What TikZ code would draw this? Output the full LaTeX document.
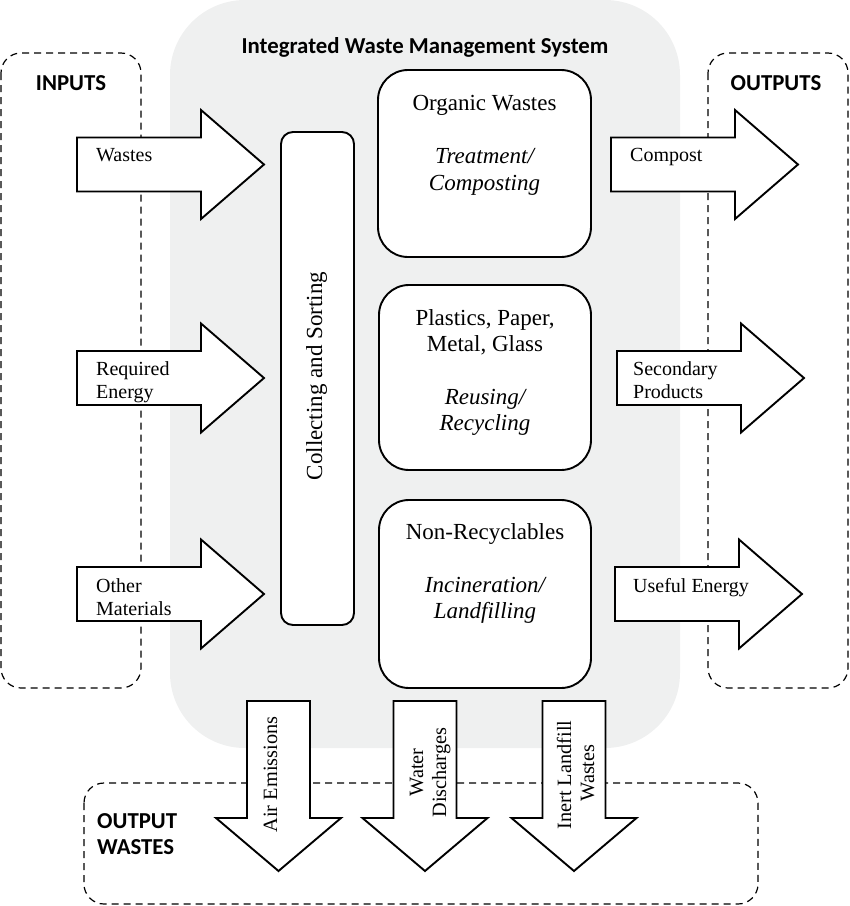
\documentclass[tikz,border=0pt]{standalone}
\usepackage{fontspec}
\setmainfont{Liberation Serif}
\newfontfamily\calib{Carlito}
\definecolor{bgfill}{HTML}{EFF0F0}
\newcommand\rblk[4]{\draw[blk] (#1,#2-27) -- (#3,#2-27) -- (#3,#2-54.5) -- (#4,#2) -- (#3,#2+54.5) -- (#3,#2+27) -- (#1,#2+27) -- cycle;}
\newcommand\dblk[1]{\draw[blk] (#1-31.5,701) -- (#1+31.5,701) -- (#1+31.5,818) -- (#1+62.5,818) -- (#1,871) -- (#1-62.5,818) -- (#1-31.5,818) -- cycle;}
\begin{document}
\begin{tikzpicture}[x=1pt,y=-1pt,
  dashbox/.style={draw, line width=1.2, dash pattern=on 7pt off 5pt, rounded corners=20},
  blk/.style={draw, fill=white, line width=1.9, line join=miter},
  procbox/.style={draw, fill=white, line width=1.9, rounded corners=30, inner sep=0},
  arrtxt/.style={font=\fontsize{20}{23}\selectfont, anchor=base west, inner sep=0},
  boxtxt/.style={font=\fontsize{23}{26.5}\selectfont, anchor=base, inner sep=0},
  dtxt/.style={font=\fontsize{20.3}{23}\selectfont, anchor=base, inner sep=0, rotate=90},
  hdr/.style={font=\calib\bfseries\fontsize{22.8}{26}\selectfont, inner sep=0}]
\useasboundingbox (0,0) rectangle (850,906);
% background of the system
\fill[bgfill, rounded corners=75] (170,0) rectangle (680,748);
% dashed groups
\draw[dashbox] (1,53) rectangle (141,688);
\draw[dashbox] (708,53) rectangle (848,688);
\draw[dashbox] (84,783) rectangle (758,904);
% headers
\node[hdr, anchor=base] (title) at (425,53) {Integrated Waste Management System};
\node[hdr, anchor=base] (inputs) at (71,90) {INPUTS};
\node[hdr, anchor=base] (outputs) at (776,90) {OUTPUTS};
\node[hdr, anchor=base west] (ow1) at (97,828) {OUTPUT};
\node[hdr, anchor=base west] (ow2) at (97,854) {WASTES};
% input arrows
\rblk{77}{164.5}{201}{264}
\rblk{77}{378}{201}{264}
\rblk{77}{594}{201}{264}
\node[arrtxt] (in1) at (96,161) {Wastes};
\node[arrtxt] (in2a) at (96,375) {Required};
\node[arrtxt] (in2b) at (96,398) {Energy};
\node[arrtxt] (in3a) at (96,592) {Other};
\node[arrtxt] (in3b) at (96,615) {Materials};
% collecting box
\node[procbox, rounded corners=12, minimum width=73, minimum height=493] (coll) at (317.5,378.5) {};
\node[boxtxt, rotate=90] (colltxt) at (322,376) {Collecting and Sorting};
% process boxes
\node[procbox, minimum width=213, minimum height=187] (org) at (484.5,163.5) {};
\node[procbox, minimum width=212, minimum height=185] (rec) at (485,377.5) {};
\node[procbox, minimum width=212, minimum height=188] (non) at (485,594) {};
\node[boxtxt] (org1) at (484.5,110) {Organic Wastes};
\node[boxtxt] (org2) at (484.5,163) {\itshape Treatment/};
\node[boxtxt] (org3) at (484.5,190) {\itshape Composting};
\node[boxtxt] (rec1) at (485,325) {Plastics, Paper,};
\node[boxtxt] (rec2) at (485,351) {Metal, Glass};
\node[boxtxt] (rec3) at (485,404) {\itshape Reusing/};
\node[boxtxt] (rec4) at (485,430) {\itshape Recycling};
\node[boxtxt] (non1) at (485,539) {Non-Recyclables};
\node[boxtxt] (non2) at (485,592) {\itshape Incineration/};
\node[boxtxt] (non3) at (485,618) {\itshape Landfilling};
% output arrows
\rblk{611}{164.5}{735}{798}
\rblk{617}{378}{741}{804}
\rblk{615}{594}{739}{802}
\node[arrtxt] (out1) at (630,161) {Compost};
\node[arrtxt] (out2a) at (633,375) {Secondary};
\node[arrtxt] (out2b) at (633,398) {Products};
\node[arrtxt] (out3) at (633,592) {Useful Energy};
% output waste arrows
\dblk{278.5}
\dblk{425}
\dblk{574}
\node[dtxt] (w1) at (277,774.5) {Air Emissions};
\node[dtxt] (w2a) at (423,772.5) {Water};
\node[dtxt] (w2b) at (446,772.5) {Discharges};
\node[dtxt] (w3a) at (571,775) {Inert Landfill};
\node[dtxt] (w3b) at (594,773) {Wastes};
\end{tikzpicture}
\end{document}
